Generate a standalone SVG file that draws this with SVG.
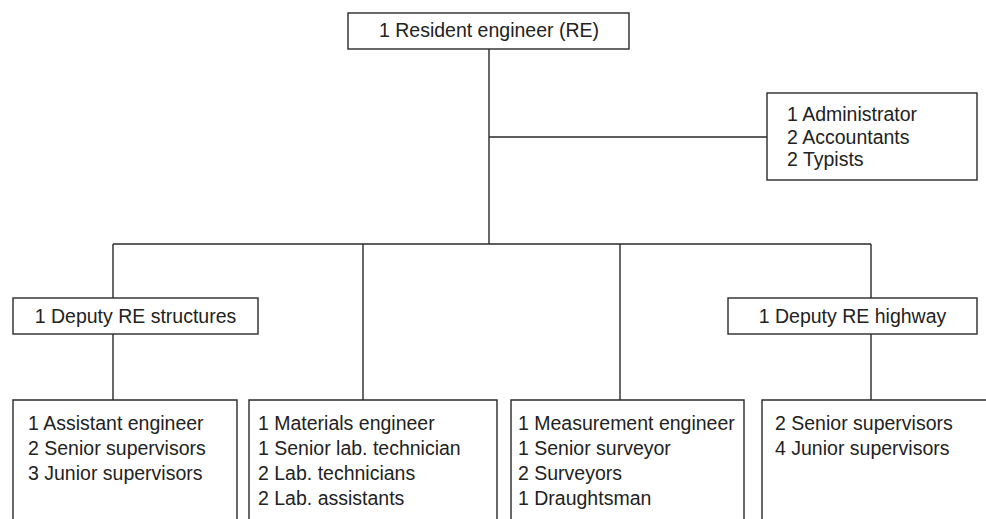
<svg xmlns="http://www.w3.org/2000/svg" width="986" height="519" viewBox="0 0 986 519">
<style>
.box{fill:#fff;stroke:#2a2a2a;stroke-width:1.4}
.ln{fill:none;stroke:#2a2a2a;stroke-width:1.4}
text{font-family:"Liberation Sans",Arial,sans-serif;font-size:19.5px;fill:#222}
.c{text-anchor:middle}
</style>
<rect width="986" height="519" fill="#fff"/>
<g id="connectors">
<path class="ln" d="M489 49V244M489 137H767M113 244H871M113 244V298M871 244V298M113 334V400M871 334V400M363 244V400M620 244V400"/>
</g>
<g id="re">
<rect class="box" x="348" y="13" width="281" height="36"/>
<text class="c" x="489" y="37">1 Resident engineer (RE)</text>
</g>
<g id="admin">
<rect class="box" x="767" y="93" width="210" height="87"/>
<text x="787" y="121">1 Administrator</text>
<text x="787" y="143.5">2 Accountants</text>
<text x="787" y="166">2 Typists</text>
</g>
<g id="deputy-structures">
<rect class="box" x="13" y="298" width="245" height="36"/>
<text class="c" x="135.5" y="323">1 Deputy RE structures</text>
</g>
<g id="deputy-highway">
<rect class="box" x="728" y="298" width="249" height="36"/>
<text class="c" x="852.5" y="323">1 Deputy RE highway</text>
</g>
<g id="structures-staff">
<path class="box" d="M13 530V400H237V530"/>
<text x="28" y="430">1 Assistant engineer</text>
<text x="28" y="455">2 Senior supervisors</text>
<text x="28" y="480">3 Junior supervisors</text>
</g>
<g id="materials-staff">
<path class="box" d="M249 530V400H497V530"/>
<text x="258" y="430">1 Materials engineer</text>
<text x="258" y="455">1 Senior lab. technician</text>
<text x="258" y="480">2 Lab. technicians</text>
<text x="258" y="505">2 Lab. assistants</text>
</g>
<g id="measurement-staff">
<path class="box" d="M511 530V400H744V530"/>
<text x="518" y="430">1 Measurement engineer</text>
<text x="518" y="455">1 Senior surveyor</text>
<text x="518" y="480">2 Surveyors</text>
<text x="518" y="505">1 Draughtsman</text>
</g>
<g id="highway-staff">
<path class="box" d="M762 530V400H990"/>
<text x="775" y="430">2 Senior supervisors</text>
<text x="775" y="455">4 Junior supervisors</text>
</g>
</svg>
